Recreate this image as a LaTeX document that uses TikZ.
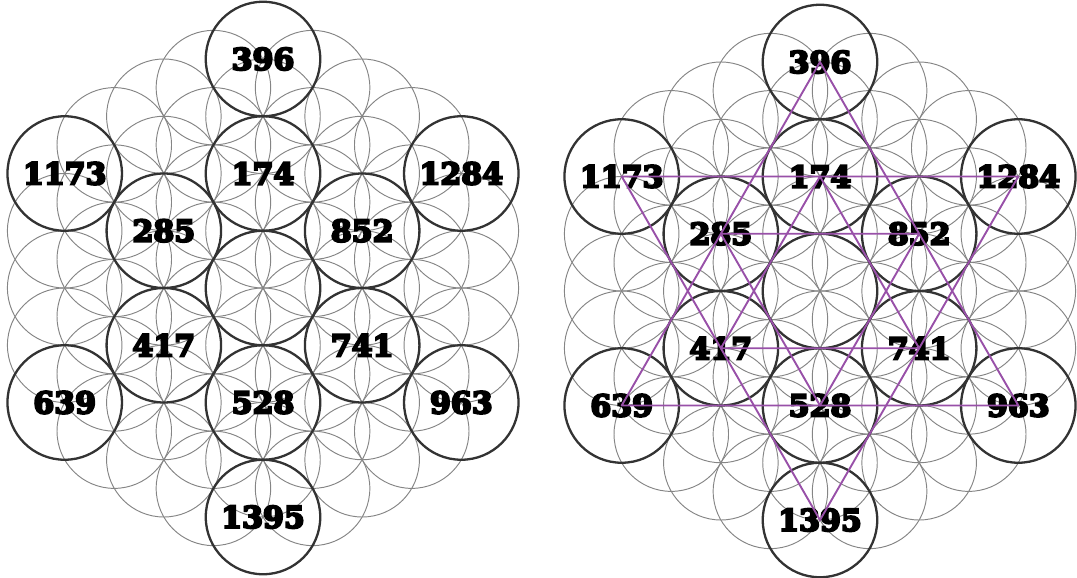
\documentclass[tikz,border=0pt]{standalone}
\usepackage{fontspec}
\setmainfont{DejaVu Serif}
\newfontfamily\numfont{DejaVu Serif}[BoldFeatures={FakeBold=7}]
\definecolor{starpurple}{RGB}{152,80,168}
\tikzset{
  gridcircle/.style={draw=black!48, line width=0.95pt},
  boldring/.style={circle, draw=black!80, line width=2.3pt, minimum size=114.5pt, inner sep=0pt,
    font=\fontsize{30}{30}\numfont\bfseries, text=black},
  starline/.style={draw=starpurple, line width=1.9pt, line join=round}
}
\newcommand\drawflower[2]{%
\begin{scope}[shift={#2}]
  \foreach \k in {-4,...,4}{
    \pgfmathtruncatemacro\nn{8-abs(\k)}
    \foreach \j in {0,...,\nn}{
      \draw[gridcircle] ({\k*49.58},{(-4+abs(\k)/2+\j)*57.25}) circle[radius=57.25pt];
    }}
  \node[boldring] (#1c)    at (0,0) {};
  \node[boldring] (#1174)  at (0,-114.5) {174};
  \node[boldring] (#1285)  at (-99.16,-57.25) {285};
  \node[boldring] (#1852)  at (99.16,-57.25) {852};
  \node[boldring] (#1417)  at (-99.16,57.25) {417};
  \node[boldring] (#1741)  at (99.16,57.25) {741};
  \node[boldring] (#1528)  at (0,114.5) {528};
  \node[boldring] (#1396)  at (0,-229) {396};
  \node[boldring] (#11395) at (0,229) {1395};
  \node[boldring] (#11173) at (-198.3,-114.5) {1173};
  \node[boldring] (#11284) at (198.3,-114.5) {1284};
  \node[boldring] (#1639)  at (-198.3,114.5) {639};
  \node[boldring] (#1963)  at (198.3,114.5) {963};
\end{scope}}
\begin{document}
\begin{tikzpicture}[x=1pt,y=-1pt]
  \useasboundingbox (0,0) rectangle (1077,578);
  \drawflower{L}{(263,288)}
  \drawflower{R}{(820,291)}
  \draw[starline] (R396.center) -- (R639.center) -- (R963.center) -- cycle;
  \draw[starline] (R1173.center) -- (R1284.center) -- (R1395.center) -- cycle;
  \draw[starline] (R174.center) -- (R417.center) -- (R741.center) -- cycle;
  \draw[starline] (R285.center) -- (R852.center) -- (R528.center) -- cycle;
\end{tikzpicture}
\end{document}
